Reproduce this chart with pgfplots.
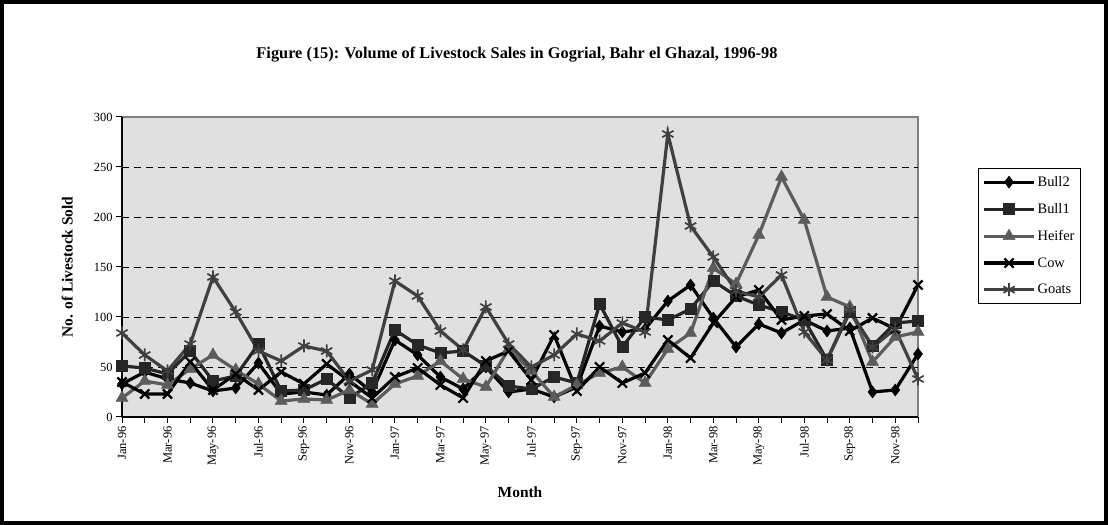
\documentclass[border=0pt]{standalone}
\usepackage{pgfplots}
\pgfplotsset{compat=1.18}
\usepackage{pgfplotstable}
\usepackage{fontspec}
\setmainfont{Liberation Serif}

\definecolor{plotbg}{HTML}{E0E0E0}
\definecolor{cBullOne}{HTML}{262626}
\definecolor{cHeifer}{HTML}{5C5C5C}
\definecolor{cGoats}{HTML}{404040}

% monthly sales, Jan-96 (0) to Dec-98 (35)
\pgfplotstableread{
m  bulltwo bullone heifer cow goats
0  33  51  19  35  84
1  45  49  36  23  62
2  38  43  32  23  46
3  34  66  48  55  73
4  26  36  62  27  140
5  29  41  47  43  105
6  54  73  33  27  66
7  23  26  16  45  56
8  25  27  18  33  71
9  22  38  17  53  66
10 43  19  27  36  36
11 25  34  13  19  47
12 77  87  33  40  136
13 62  72  41  49  121
14 40  64  56  32  86
15 28  66  38  19  67
16 50  51  30  56  110
17 25  31  68  66  73
18 28  28  46  37  50
19 20  40  20  82  62
20 30  34  32  26  83
21 91  113 44  50  76
22 85  70  50  34  94
23 88  100 34  44  85
24 116 97  68  77  283
25 132 108 84  59  191
26 99  136 149 94  160
27 70  121 133 120 126
28 93  112 182 127 120
29 84  105 240 97  142
30 97  97  197 101 85
31 86  57  120 103 57
32 89  105 110 86  107
33 25  71  55  99  70
34 27  94  80  88  88
35 63  96  85  132 38
}\sales

\begin{document}
\begin{tikzpicture}[x=1bp,y=1bp]
\useasboundingbox (0,0) rectangle (1108,525);
\draw[line width=4bp] (2,2) rectangle (1106,523);
\node[font=\fontsize{16.4}{18}\selectfont\bfseries] at (517,470)
  {Figure (15): Volume of Livestock Sales in Gogrial, Bahr el Ghazal, 1996-98};
\begin{axis}[
  at={(122bp,108bp)}, anchor=south west,
  width=796bp, height=300bp, scale only axis,
  xmin=0, xmax=35, ymin=0, ymax=300,
  axis lines=left,
  axis line style={-, black, line width=1.3bp},
  axis background/.style={fill=plotbg, draw=gray, line width=1.3bp},
  tick align=outside,
  major tick length=6bp,
  tick style={black, line width=1bp},
  ytick={50,100,...,250},
  extra y ticks={0,300},
  extra y tick style={grid=none},
  ymajorgrids,
  grid style={black, line width=0.9bp, dash pattern=on 7bp off 5bp},
  xtick={0,...,35},
  xticklabels={Jan-96,,Mar-96,,May-96,,Jul-96,,Sep-96,,Nov-96,,
               Jan-97,,Mar-97,,May-97,,Jul-97,,Sep-97,,Nov-97,,
               Jan-98,,Mar-98,,May-98,,Jul-98,,Sep-98,,Nov-98,},
  x tick label style={rotate=90, anchor=east, font=\fontsize{12.5}{14}\selectfont},
  y tick label style={font=\fontsize{12.5}{14}\selectfont},
  /pgf/number format/assume math mode=true,
  xlabel={\bfseries Month},
  ylabel={\bfseries No. of Livestock Sold},
  label style={font=\fontsize{15.5}{17}\selectfont},
  xlabel style={yshift=-14bp},
  ylabel style={yshift=2bp},
  legend style={at={(1.0754,0.83)}, anchor=north west, draw=black,
    line width=0.8bp, fill=white, font=\fontsize{14.5}{16}\selectfont,
    row sep=11.5bp, inner xsep=4bp, inner ysep=6bp},
  legend cell align=left,
  legend image code/.code={%
    \draw[mark repeat=2, mark phase=2, #1]
      plot coordinates {(0bp,0bp) (25bp,0bp) (50bp,0bp)};},
  every axis plot/.append style={line width=3.2bp},
]
\addplot[black, mark=diamond*, mark size=6bp, mark options={solid, line width=0.5bp}]
  table[x=m, y=bulltwo] {\sales};
\addlegendentry{Bull2}
\addplot[cBullOne, mark=square*, mark size=5.5bp, mark options={solid, line width=0.5bp}]
  table[x=m, y=bullone] {\sales};
\addlegendentry{Bull1}
\addplot[cHeifer, mark=triangle*, mark size=7bp, mark options={solid, line width=0.5bp}]
  table[x=m, y=heifer] {\sales};
\addlegendentry{Heifer}
\addplot[black, mark=x, mark size=6.5bp, mark options={solid, line width=2.2bp}]
  table[x=m, y=cow] {\sales};
\addlegendentry{Cow}
\addplot[cGoats, mark=asterisk, mark size=6.5bp, mark options={solid, line width=1.7bp}]
  table[x=m, y=goats] {\sales};
\addlegendentry{Goats}
\end{axis}
\end{tikzpicture}
\end{document}
